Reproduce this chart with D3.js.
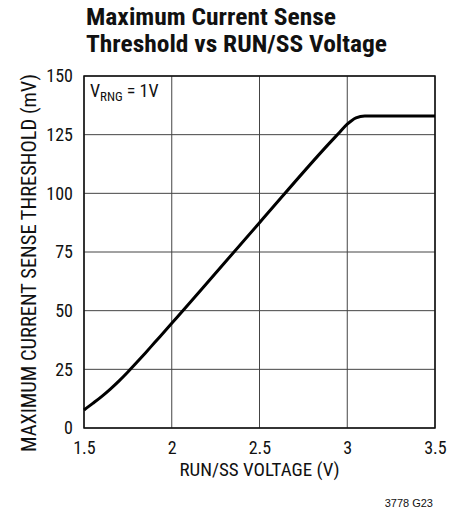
<!DOCTYPE html>
<html>
<head>
<meta charset="utf-8">
<script src="https://cdn.jsdelivr.net/npm/d3@7"></script>
<style>
  body { margin: 0; background: #fff; }
  text { font-family: "Liberation Sans Narrow", "Arial Narrow", "Roboto Condensed", sans-serif; fill: #111; }
</style>
</head>
<body>
<div id="graph"></div>
<script>
// data
let runss = [1.5, 1.55, 1.6, 1.65, 1.7, 1.75, 1.8, 1.85, 1.9, 2.0, 2.5, 2.9, 2.95, 3.0, 3.05, 3.1, 3.2, 3.5];
let thresh = [7.7, 10.5, 13.4, 16.6, 20.1, 23.9, 27.9, 32.0, 36.2, 44.6, 87.5, 121.5, 125.5, 129.5, 132.2, 133, 133, 133];
let xTicks = [1.5, 2, 2.5, 3, 3.5];
let yTicks = [0, 25, 50, 75, 100, 125, 150];

let margin = {top: 76, right: 31, bottom: 82, left: 84};
let width = 466 - margin.left - margin.right;
let height = 510 - margin.top - margin.bottom;

let root = d3.select("#graph").append("svg")
  .attr("width", 466)
  .attr("height", 510);
let svg = root.append("g")
  .attr("transform", "translate(" + margin.left + "," + margin.top + ")");

let x = d3.scaleLinear().domain([1.5, 3.5]).range([0, width]);
let y = d3.scaleLinear().domain([0, 150]).range([height, 0]);

// Title
root.append("text").attr("x", 86).attr("y", 25)
  .style("font-size", "23px").style("font-weight", "bold")
  .attr("textLength", 250).attr("lengthAdjust", "spacingAndGlyphs")
  .text("Maximum Current Sense");
root.append("text").attr("x", 86).attr("y", 52)
  .style("font-size", "23px").style("font-weight", "bold")
  .attr("textLength", 301).attr("lengthAdjust", "spacingAndGlyphs")
  .text("Threshold vs RUN/SS Voltage");

// Grid
svg.append("g").selectAll("line").data(xTicks).join("line")
  .attr("x1", d => x(d)).attr("x2", d => x(d))
  .attr("y1", 0).attr("y2", height)
  .attr("stroke", "#444").attr("stroke-width", 1);
svg.append("g").selectAll("line").data(yTicks).join("line")
  .attr("x1", 0).attr("x2", width)
  .attr("y1", d => y(d)).attr("y2", d => y(d))
  .attr("stroke", "#444").attr("stroke-width", 1);

// Frame
svg.append("rect").attr("width", width).attr("height", height)
  .attr("fill", "none").attr("stroke", "#111").attr("stroke-width", 1.5);

// Axes labels
let xAxis = d3.axisBottom(x).tickValues(xTicks).tickSize(0).tickPadding(13).tickFormat(d3.format("~g"));
let gx = svg.append("g").attr("transform", "translate(0," + height + ")").call(xAxis);
let yAxis = d3.axisLeft(y).tickValues(yTicks).tickSize(0).tickPadding(11);
let gy = svg.append("g").call(yAxis);
[gx, gy].forEach(g => {
  g.select(".domain").remove();
  g.selectAll("text").style("font-size", "18px").style("font-family", null).attr("fill", "#111");
});

// Axis titles
svg.append("text").attr("x", width / 2).attr("y", height + 48)
  .attr("text-anchor", "middle").style("font-size", "19px")
  .text("RUN/SS VOLTAGE (V)");
svg.append("text")
  .attr("transform", "translate(" + (-48) + "," + (height / 2 + 11) + ") rotate(-90)")
  .attr("text-anchor", "middle").style("font-size", "20px")
  .attr("textLength", 378).attr("lengthAdjust", "spacingAndGlyphs")
  .text("MAXIMUM CURRENT SENSE THRESHOLD (mV)");

// VRNG label
let lab = svg.append("text").attr("x", 6).attr("y", 21).style("font-size", "18px");
lab.append("tspan").text("V");
lab.append("tspan").attr("dy", 4).style("font-size", "13px").text("RNG");
lab.append("tspan").attr("dy", -4).text(" = 1V");

// Curve
let line = d3.line()
  .x((d, i) => x(runss[i]))
  .y(d => y(d))
  .curve(d3.curveMonotoneX);
svg.append("path")
  .attr("d", line(thresh))
  .attr("fill", "none").attr("stroke", "#000").attr("stroke-width", 3);

// Footnote
root.append("text").attr("x", 433).attr("y", 507)
  .attr("text-anchor", "end").style("font-size", "11px")
  .style("font-family", "'Liberation Sans', Arial, sans-serif")
  .text("3778 G23");
</script>
</body>
</html>
